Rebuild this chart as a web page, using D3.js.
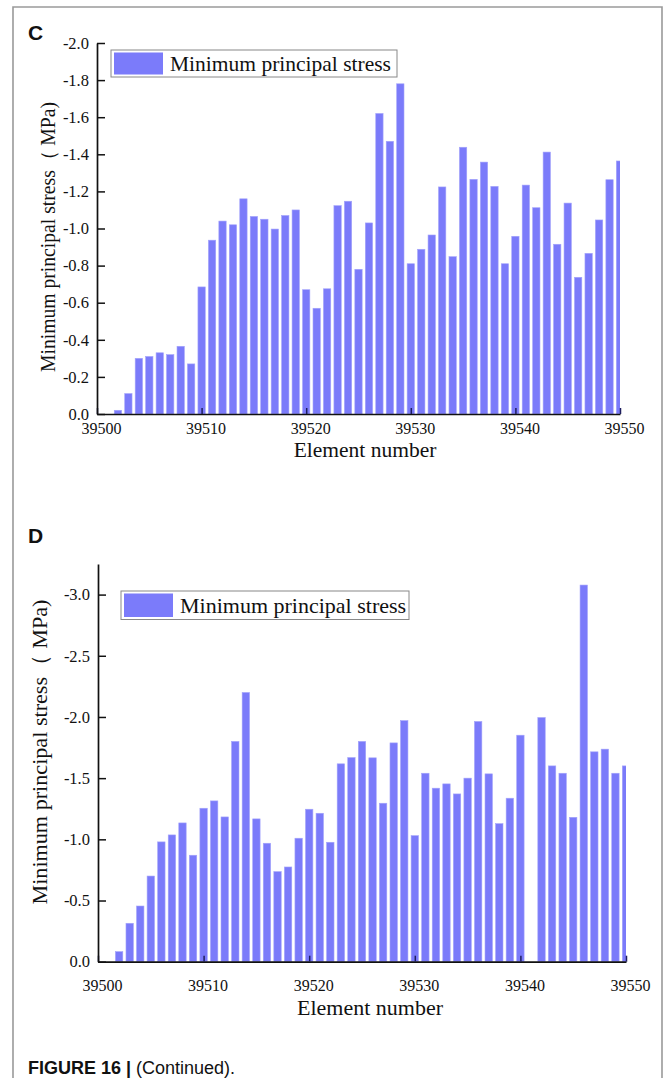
<!DOCTYPE html>
<html>
<head>
<meta charset="utf-8">
<script src="https://cdn.jsdelivr.net/npm/d3@7"></script>
<style>
  body { margin: 0; background: #fff; }
  svg { display: block; }
  .serif { font-family: "Liberation Serif", "Times New Roman", serif; fill: #111; }
  .sans { font-family: "Liberation Sans", Arial, sans-serif; fill: #111; }
</style>
</head>
<body>
<div id="chart"></div>
<script>
// data
const elements = [39502, 39503, 39504, 39505, 39506, 39507, 39508, 39509, 39510, 39511,
  39512, 39513, 39514, 39515, 39516, 39517, 39518, 39519, 39520, 39521,
  39522, 39523, 39524, 39525, 39526, 39527, 39528, 39529, 39530, 39531,
  39532, 39533, 39534, 39535, 39536, 39537, 39538, 39539, 39540, 39541,
  39542, 39543, 39544, 39545, 39546, 39547, 39548, 39549, 39550];

const stressC = [-0.02, -0.11, -0.30, -0.31, -0.33, -0.32, -0.365, -0.27, -0.685, -0.937,
  -1.04, -1.02, -1.16, -1.065, -1.05, -0.997, -1.07, -1.10, -0.67, -0.57,
  -0.675, -1.123, -1.147, -0.78, -1.03, -1.62, -1.47, -1.78, -0.81, -0.888,
  -0.965, -1.224, -0.848, -1.438, -1.265, -1.358, -1.227, -0.81, -0.958, -1.234,
  -1.112, -1.412, -0.915, -1.137, -0.737, -0.866, -1.046, -1.263, -1.364];

const stressD = [-0.082, -0.314, -0.455, -0.70, -0.979, -1.036, -1.134, -0.87, -1.254, -1.314,
  -1.183, -1.80, -2.20, -1.167, -0.968, -0.736, -0.774, -1.009, -1.246, -1.213,
  -0.976, -1.617, -1.668, -1.80, -1.666, -1.295, -1.788, -1.97, -1.03, -1.54,
  -1.418, -1.453, -1.371, -1.50, -1.963, -1.535, -1.128, -1.336, -1.851, 0,
  -1.995, -1.60, -1.54, -1.18, -3.078, -1.715, -1.737, -1.54, -1.60];

const xTicks = [39500, 39510, 39520, 39530, 39540, 39550];
const yTicksC = [0, -0.2, -0.4, -0.6, -0.8, -1.0, -1.2, -1.4, -1.6, -1.8, -2.0];
const yTicksD = [0, -0.5, -1.0, -1.5, -2.0, -2.5, -3.0];

const seriesName = "Minimum principal stress";
const yTitle = "Minimum principal stress（ MPa)";
const xTitle = "Element number";

const W = 665, H = 1078;
const barFill = "#7b7bfa";

const svg = d3.select("#chart").append("svg")
  .attr("width", W).attr("height", H);

// frame
svg.append("path")
  .attr("d", `M13,${H} L13,7 L662,7 L662,${H}`)
  .attr("fill", "none")
  .attr("stroke", "#9a9a9a")
  .attr("stroke-width", 1.6);

const fmt = (d) => (d === 0 ? "0.0" : d.toFixed(1));

function drawPanel(p) {
  const g = svg.append("g");

  const xScale = d3.scaleLinear().domain([39500, 39550]).range([p.left, p.right]);
  const yScale = d3.scaleLinear().domain(p.yDomain).range([p.bottom, p.top]);
  const bw = (xScale(1) - xScale(0)) * 0.7;

  // clip so the last bar is cut at the axis end
  g.append("clipPath").attr("id", "clip" + p.id)
    .append("rect")
    .attr("x", p.left).attr("y", p.top - 5)
    .attr("width", p.right - p.left).attr("height", p.bottom - p.top + 5);

  g.append("g").attr("clip-path", `url(#clip${p.id})`)
    .selectAll("rect")
    .data(elements.map((e, i) => ({ e, v: p.values[i] })))
    .join("rect")
    .attr("x", (d) => xScale(d.e) - bw / 2)
    .attr("y", (d) => yScale(d.v))
    .attr("width", bw)
    .attr("height", (d) => yScale(0) - yScale(d.v))
    .attr("fill", barFill)
    .attr("stroke", "#a3a3fb")
    .attr("stroke-width", 0.6);

  // axes
  const xAxis = d3.axisBottom(xScale)
    .tickValues(xTicks)
    .tickFormat((d) => d)
    .tickSize(-6)
    .tickSizeOuter(0)
    .tickPadding(p.xPad);

  const yAxis = d3.axisLeft(yScale)
    .tickValues(p.yTicks)
    .tickFormat(fmt)
    .tickSize(-8)
    .tickSizeOuter(0)
    .tickPadding(8);

  const gx = g.append("g")
    .attr("transform", `translate(0, ${p.bottom})`)
    .call(xAxis);
  gx.select(".domain").attr("stroke", "#111").attr("stroke-width", 1.7);
  gx.selectAll(".tick line").attr("stroke", "#1e1e5e").attr("stroke-width", 1.5);
  gx.selectAll(".tick text")
    .attr("class", "serif")
    .attr("dx", 4)
    .style("font-size", "16px")
    .attr("fill", "#111");

  const gy = g.append("g")
    .attr("transform", `translate(${p.left}, 0)`)
    .call(yAxis);
  gy.select(".domain").attr("stroke", "#111").attr("stroke-width", 1.7);
  gy.selectAll(".tick line").attr("stroke", "#111").attr("stroke-width", 1.5);
  gy.selectAll(".tick text")
    .attr("class", "serif")
    .style("font-size", "16.5px")
    .attr("fill", "#111");

  // titles
  g.append("text")
    .attr("class", "serif")
    .attr("x", p.xTitleX).attr("y", p.xTitleY)
    .attr("text-anchor", "middle")
    .style("font-size", p.xTitleSize + "px")
    .text(xTitle);

  g.append("text")
    .attr("class", "serif")
    .attr("transform", `translate(${p.yTitleX}, ${p.yTitleY}) rotate(-90)`)
    .attr("text-anchor", "middle")
    .attr("textLength", p.yTitleLen)
    .attr("lengthAdjust", "spacingAndGlyphs")
    .style("font-size", p.yTitleSize + "px")
    .text(yTitle);

  // legend
  const lg = g.append("g");
  lg.append("rect")
    .attr("x", p.legend[0]).attr("y", p.legend[1])
    .attr("width", p.legend[2]).attr("height", p.legend[3])
    .attr("fill", "#fff").attr("stroke", "#888").attr("stroke-width", 1);
  lg.append("rect")
    .attr("x", p.legend[0] + 3).attr("y", p.legend[1] + 2.5)
    .attr("width", 49).attr("height", p.legend[3] - 5)
    .attr("fill", barFill);
  lg.append("text")
    .attr("class", "serif")
    .attr("x", p.legend[0] + 59).attr("y", p.legend[1] + p.legend[3] - 6.5)
    .style("font-size", p.legendSize + "px")
    .text(seriesName);

  // panel letter
  g.append("text")
    .attr("class", "sans")
    .attr("x", 28).attr("y", p.letterY)
    .style("font-size", "21px")
    .style("font-weight", "bold")
    .text(p.id);
}

drawPanel({
  id: "C", values: stressC, yDomain: [0, -2.0], yTicks: yTicksC,
  left: 97, right: 620, top: 43, bottom: 414, xPad: 9,
  xTitleX: 365, xTitleY: 457, xTitleSize: 21.5,
  yTitleX: 55, yTitleY: 237, yTitleLen: 270, yTitleSize: 20,
  legend: [111, 50, 286, 27], legendSize: 21.5, letterY: 40
});

drawPanel({
  id: "D", values: stressD, yDomain: [0, -3.25], yTicks: yTicksD,
  left: 98, right: 626, top: 564, bottom: 961.7, xPad: 18,
  xTitleX: 370, xTitleY: 1015, xTitleSize: 22,
  yTitleX: 46.5, yTitleY: 752, yTitleLen: 305, yTitleSize: 21.5,
  legend: [121, 591, 288, 28.5], legendSize: 22, letterY: 543
});

// caption
const cap = svg.append("text")
  .attr("class", "sans")
  .attr("x", 28).attr("y", 1074)
  .style("font-size", "18px");
cap.append("tspan").style("font-weight", "bold").text("FIGURE 16 | ");
cap.append("tspan").text("(Continued).");
</script>
</body>
</html>
